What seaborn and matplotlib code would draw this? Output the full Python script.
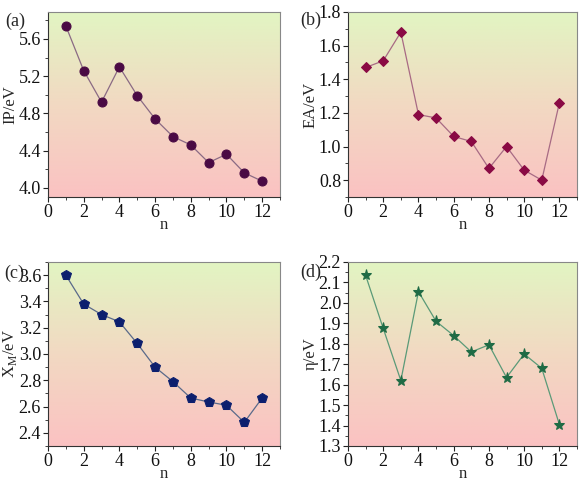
import numpy as np
import matplotlib
matplotlib.use("Agg")
import matplotlib.pyplot as plt
import seaborn as sns
import pandas as pd
from matplotlib.colors import LinearSegmentedColormap
from matplotlib.ticker import MultipleLocator, AutoMinorLocator, FormatStrFormatter

sns.set_theme(style="ticks")
plt.rcParams['font.family'] = ['Liberation Serif', 'DejaVu Serif']
plt.rcParams['mathtext.fontset'] = 'custom'
plt.rcParams['mathtext.rm'] = 'Liberation Serif'

n = list(range(1, 13))
ip = [5.74, 5.26, 4.92, 5.30, 4.99, 4.74, 4.55, 4.46, 4.27, 4.36, 4.16, 4.07]
ea = [1.47, 1.51, 1.68, 1.19, 1.17, 1.06, 1.03, 0.87, 1.00, 0.86, 0.80, 1.26]
xm = [3.60, 3.38, 3.30, 3.245, 3.08, 2.90, 2.79, 2.665, 2.635, 2.61, 2.48, 2.665]
eta = [2.135, 1.875, 1.62, 2.055, 1.91, 1.84, 1.76, 1.795, 1.635, 1.75, 1.68, 1.405]

panels = [
    dict(y=ip, label="IP/eV", tag="(a)", marker="o", mc="#4a0a44", lc="#8a6a84",
         ylim=(3.9, 5.89), major=0.4, ms=6.5),
    dict(y=ea, label="EA/eV", tag="(b)", marker="D", mc="#8a0a44", lc="#a86a84",
         ylim=(0.7, 1.8), major=0.2, ms=5.5),
    dict(y=xm, label="X$_{\\mathrm{M}}$/eV", tag="(c)", marker="p", mc="#0c1f6e", lc="#5a6a8a",
         ylim=(2.3, 3.7), major=0.2, ms=7),
    dict(y=eta, label="η/eV", tag="(d)", marker="*", mc="#1f6b45", lc="#5a9a78",
         ylim=(1.3, 2.2), major=0.1, ms=8),
]

W, H = 583, 484
fig = plt.figure(figsize=(W / 100, H / 100), dpi=100)
boxes = [
    (48, 12, 280, 197),
    (348, 12, 577, 197),
    (48, 262, 280, 446),
    (348, 262, 577, 446),
]
tagpos = [(5, 21), (300, 20), (4, 273), (300, 272)]

cmap = LinearSegmentedColormap.from_list("bg", ["#fbc2c2", "#f2d9c2", "#e2f5c2"])
grad = np.linspace(0, 1, 256).reshape(-1, 1)

for p, (l, t, r, b), (tx, ty) in zip(panels, boxes, tagpos):
    ax = fig.add_axes([l / W, 1 - b / H, (r - l) / W, (b - t) / H])
    ax.set_xlim(0, 13)
    ax.set_ylim(*p["ylim"])
    ax.imshow(grad, extent=[0, 13, p["ylim"][0], p["ylim"][1]], origin="lower",
              aspect="auto", cmap=cmap, zorder=0)
    df = pd.DataFrame({"n": n, "v": p["y"]})
    sns.lineplot(data=df, x="n", y="v", ax=ax, color=p["lc"], linewidth=0.9,
                 marker=p["marker"], markersize=p["ms"], markerfacecolor=p["mc"],
                 markeredgecolor=p["mc"], zorder=3)
    ax.set_xlabel("n", fontsize=12, labelpad=-2.5)
    ax.set_ylabel(p["label"], fontsize=12, labelpad=0)
    ax.xaxis.set_major_locator(MultipleLocator(2))
    ax.xaxis.set_minor_locator(MultipleLocator(1))
    ax.yaxis.set_major_locator(MultipleLocator(p["major"]))
    ax.yaxis.set_minor_locator(AutoMinorLocator(2))
    ax.yaxis.set_major_formatter(FormatStrFormatter("%.1f"))
    ax.tick_params(axis="both", which="major", labelsize=13, length=3.5, width=0.8,
                   direction="out", pad=1.5, colors="#222222", labelcolor="#111111")
    ax.tick_params(axis="both", which="minor", length=2, width=0.6, direction="out",
                   colors="#222222")
    for s in ["left", "bottom"]:
        ax.spines[s].set_color("#333333")
        ax.spines[s].set_linewidth(0.8)
    for s in ["top", "right"]:
        ax.spines[s].set_color("#888888")
        ax.spines[s].set_linewidth(0.8)
    fig.text(tx / W, 1 - ty / H, p["tag"], fontsize=13, va="center", ha="left")

fig.savefig("out.png", dpi=100)
